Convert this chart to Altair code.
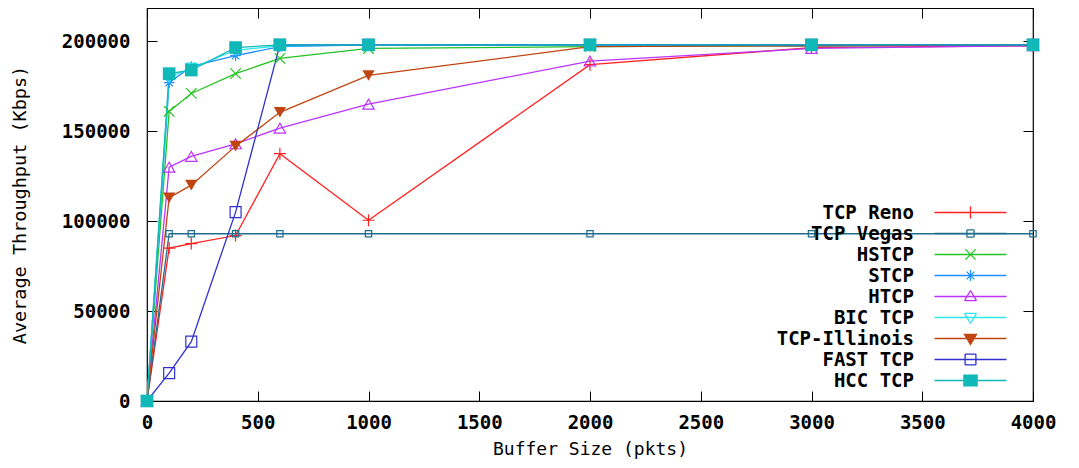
import altair as alt
import pandas as pd

# ---------------- data ----------------
buffer_sizes = [0, 100, 200, 400, 600, 1000, 2000, 3000, 4000]
series_names = ["TCP Reno", "TCP Vegas", "HSTCP", "STCP", "HTCP",
                "BIC TCP", "TCP-Illinois", "FAST TCP", "HCC TCP"]
reno     = [0, 85000, 87500, 92000, 137500, 100500, 187000, 196500, 197500]
vegas    = [0, 93000, 93000, 93000, 93000, 93000, 93000, 93000, 93000]
hstcp    = [0, 161000, 171000, 182000, 190500, 196000, 197000, 197500, 198000]
stcp     = [0, 177000, 186000, 192000, 197000, 198000, 198000, 197500, 198000]
htcp     = [0, 130000, 136000, 143000, 151700, 165000, 189000, 196000, 197500]
bic      = [0, 180000, 185000, 195000, 197500, 198000, 198000, 198000, 198000]
illinois = [0, 113000, 120000, 141700, 160500, 181000, 197000, 197500, 198000]
fast     = [0, 15500, 33000, 105000, 198000, 198000, 198000, 198000, 198000]
hcc      = [0, 182000, 184000, 196500, 198000, 198000, 198000, 198000, 198000]

x_ticks = [0, 500, 1000, 1500, 2000, 2500, 3000, 3500, 4000]
y_ticks = [0, 50000, 100000, 150000, 200000]

all_values = [reno, vegas, hstcp, stcp, htcp, bic, illinois, fast, hcc]
rows = []
for name, vals in zip(series_names, all_values):
    for b, v in zip(buffer_sizes, vals):
        rows.append({"series": name, "buffer": b, "thr": v})
df = pd.DataFrame(rows)

# ---------------- styles ----------------
colors = ["#ff2020", "#1f6d8c", "#22c322", "#1e90ff", "#bb33ff",
          "#2ee6f0", "#c0440f", "#3030d0", "#10b8b8"]
PLUS = "M-1,0L1,0M0,-1L0,1"
XCROSS = "M-1,-1L1,1M-1,1L1,-1"
STAR = "M-1,0L1,0M0,-1L0,1M-0.72,-0.72L0.72,0.72M-0.72,0.72L0.72,-0.72"
point_shapes = [PLUS, "square", XCROSS, STAR, "triangle-up",
                "triangle-down", "triangle-down", "square", "square"]
point_sizes = [144, 40, 110, 110, 130, 130, 150, 120, 160]
filled_series = ["TCP-Illinois", "HCC TCP"]

# legend symbols: a line with the marker on it (1 unit = 6 px).
# Hollow markers are drawn as separate segments so that no area gets filled.
LINE = "M-6,0L6,0"


def outline(pts):
    segs = []
    for i in range(len(pts)):
        a, b = pts[i], pts[(i + 1) % len(pts)]
        segs.append(f"M{a[0]},{a[1]}L{b[0]},{b[1]}")
    return "".join(segs)


def closed(pts):
    return "M" + "L".join(f"{x},{y}" for x, y in pts) + "Z"


legend_paths = {
    "TCP Reno": LINE + "M0,-1L0,1",
    "TCP Vegas": LINE + outline([(-0.6, -0.6), (0.6, -0.6), (0.6, 0.6), (-0.6, 0.6)]),
    "HSTCP": LINE + "M-0.85,-0.85L0.85,0.85M-0.85,0.85L0.85,-0.85",
    "STCP": LINE + "M0,-0.9L0,0.9M-0.65,-0.65L0.65,0.65M-0.65,0.65L0.65,-0.65",
    "HTCP": LINE + outline([(0, -1), (1, 0.7), (-1, 0.7)]),
    "BIC TCP": LINE + outline([(0, 1), (1, -0.7), (-1, -0.7)]),
    "TCP-Illinois": LINE + closed([(0, 1), (1, -0.7), (-1, -0.7)]),
    "FAST TCP": LINE + outline([(-0.9, -0.9), (0.9, -0.9), (0.9, 0.9), (-0.9, 0.9)]),
    "HCC TCP": LINE + closed([(-1.1, -0.9), (1.1, -0.9), (1.1, 0.9), (-1.1, 0.9)]),
}
shape_expr = "'" + LINE + "'"
for k in reversed(series_names):
    shape_expr = f"datum.value === '{k}' ? '{legend_paths[k]}' : ({shape_expr})"
NB = "\u00a0" * 12
label_expr = f"substring('{NB}', 0, 12 - length(datum.label)) + datum.label"

FONT = "DejaVu Sans Mono"
W, H = 886, 393

legend = alt.Legend(
    title=None, orient="none", legendX=814, legendY=195, direction="vertical",
    padding=0, rowPadding=1, symbolSize=144, symbolStrokeWidth=1.3,
    symbolType=alt.ExprRef(shape_expr), symbolFillColor="transparent", symbolOpacity=1,
    labelFont=FONT, labelFontSize=19, labelFontWeight="bold", labelColor="black",
    labelAlign="right", labelOffset=alt.ExprRef("-66"), labelLimit=400, labelExpr=label_expr,
)

x_scale = alt.Scale(domain=[0, 4000], nice=False, zero=False)
y_scale = alt.Scale(domain=[0, 218500], nice=False)
color_scale = alt.Scale(domain=series_names, range=colors)
# shape/size scales use the same mapping, listed in reverse order
shape_scale = alt.Scale(domain=series_names[::-1], range=point_shapes[::-1])
size_scale = alt.Scale(type="ordinal", domain=series_names[::-1], range=point_sizes[::-1])

x_main = alt.Axis(values=x_ticks, orient="bottom", format="d", labelFont=FONT, labelFontSize=19,
                  labelFontWeight="bold", labelColor="black", labelPadding=12,
                  ticks=False, domain=False, grid=False, labelFlush=False,
                  title="Buffer Size (pkts)", titleFont=FONT, titleFontSize=18,
                  titleFontWeight="normal", titleColor="black",
                  titleX=W / 2, titleY=48, titleBaseline="middle", titleAlign="center")
y_main = alt.Axis(values=y_ticks, orient="left", format="d", labelFont=FONT, labelFontSize=19,
                  labelFontWeight="bold", labelColor="black", labelPadding=17,
                  ticks=False, domain=False, grid=False, labelFlush=False,
                  title="Average Throughput (Kbps)", titleFont=FONT, titleFontSize=18.5,
                  titleFontWeight="normal", titleColor="black", titleAngle=270,
                  titleX=-128, titleY=H / 2, titleBaseline="middle", titleAlign="center")


def tick_axis(values, orient, offset):
    return alt.Axis(values=values, orient=orient, offset=offset, labels=False,
                    domain=False, grid=False, ticks=True, tickSize=10,
                    tickColor="black", tickWidth=1, title=None)


base = alt.Chart(df)

lines = base.mark_line(strokeWidth=1.3).encode(
    x=alt.X("buffer:Q", scale=x_scale, axis=x_main),
    y=alt.Y("thr:Q", scale=y_scale, axis=y_main),
    color=alt.Color("series:N", scale=color_scale, legend=legend),
)

open_pts = base.transform_filter(
    alt.FieldOneOfPredicate(field="series",
                            oneOf=[s for s in series_names if s not in filled_series])
).mark_point(filled=False, strokeWidth=1.2, opacity=1).encode(
    x=alt.X("buffer:Q", scale=x_scale, axis=tick_axis(x_ticks, "top", -H)),
    y=alt.Y("thr:Q", scale=y_scale, axis=tick_axis(y_ticks, "right", -W)),
    color=alt.Color("series:N", scale=color_scale, legend=None),
    shape=alt.Shape("series:N", scale=shape_scale, legend=None),
    size=alt.Size("series:N", scale=size_scale, legend=None),
)

filled_pts = base.transform_filter(
    alt.FieldOneOfPredicate(field="series", oneOf=filled_series)
).mark_point(filled=True, opacity=1).encode(
    x=alt.X("buffer:Q", scale=x_scale, axis=tick_axis(x_ticks, "bottom", -H)),
    y=alt.Y("thr:Q", scale=y_scale, axis=tick_axis(y_ticks, "left", -W)),
    color=alt.Color("series:N", scale=color_scale, legend=None),
    shape=alt.Shape("series:N", scale=shape_scale, legend=None),
    size=alt.Size("series:N", scale=size_scale, legend=None),
)

chart = alt.layer(lines, open_pts, filled_pts).resolve_axis(
    x="independent", y="independent"
).properties(
    width=W, height=H,
    autosize=alt.AutoSizeParams(type="none"),
    padding={"left": 139, "top": 0, "right": 38, "bottom": 59},
    background="white",
).configure_view(stroke="black", strokeWidth=1.2)

chart.save("out.html", embed_options={"renderer": "svg", "actions": False})
